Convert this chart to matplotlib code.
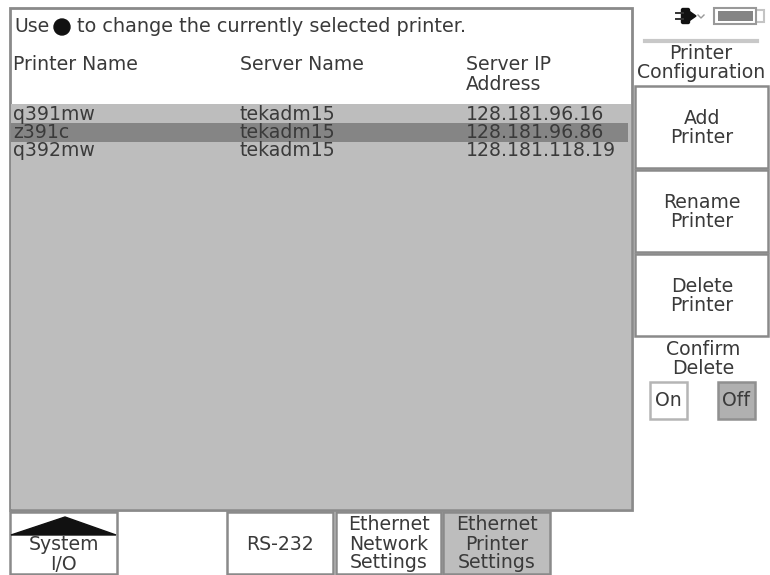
import matplotlib
matplotlib.use("Agg")
import matplotlib.pyplot as plt
from matplotlib.patches import Rectangle, Polygon, Circle, FancyBboxPatch

# table contents
headers = ["Printer Name", "Server Name", "Server IP\nAddress"]
printer_names = ["q391mw", "z391c", "q392mw"]
server_names = ["tekadm15", "tekadm15", "tekadm15"]
server_ips = ["128.181.96.16", "128.181.96.86", "128.181.118.19"]
selected_row = 1

# button labels
side_buttons = ["Add\nPrinter", "Rename\nPrinter", "Delete\nPrinter"]
bottom_buttons = ["System\nI/O", "RS-232", "Ethernet\nNetwork\nSettings", "Ethernet\nPrinter\nSettings"]

INK = "#3a3a3a"
EDGE = "#8a8a8a"
FILL = "#bdbdbd"
FS = 13.6


def box(ax, x0, y0, x1, y1, face="white", edge=EDGE, lw=1.8):
    ax.add_patch(Rectangle((x0, y0), x1 - x0, y1 - y0, facecolor=face, edgecolor=edge, linewidth=lw))


def label(ax, x, y, s, ha="center", size=FS):
    ax.text(x, y, s, ha=ha, va="center", fontsize=size, color=INK, linespacing=1.0)


def main():
    fig = plt.figure(figsize=(7.7, 5.75), dpi=100)
    ax = fig.add_axes([0, 0, 1, 1])
    ax.set_xlim(0, 770)
    ax.set_ylim(575, 0)
    ax.axis("off")

    # -----------------------
    # Main panel
    # -----------------------
    box(ax, 10, 8, 632, 510, lw=2)
    ax.add_patch(Rectangle((11, 104), 620, 405, facecolor=FILL, edgecolor="none"))
    ax.add_patch(Rectangle((11, 123), 617, 19, facecolor="#858585", edgecolor="none"))

    label(ax, 14, 27, "Use", ha="left")
    ax.add_patch(Circle((62, 27), 8, color="#111111"))
    label(ax, 77, 27, "to change the currently selected printer.", ha="left", size=13.85)

    col_x = [13, 240, 466]
    for x, head in zip(col_x, headers):
        y = 64 if "\n" not in head else 74.5
        label(ax, x, y, head, ha="left")

    row_y = [114, 132.5, 151]
    for i, y in enumerate(row_y):
        label(ax, col_x[0], y, printer_names[i], ha="left")
        label(ax, col_x[1], y, server_names[i], ha="left")
        label(ax, col_x[2], y, server_ips[i], ha="left")

    # -----------------------
    # Right column
    # -----------------------
    ax.plot([645, 757], [41, 41], color="#c8c8c8", lw=3)
    label(ax, 701, 63, "Printer\nConfiguration")

    # plug and battery
    ax.add_patch(FancyBboxPatch((683, 10), 5, 12, boxstyle="round,pad=1.5", color="#111111"))
    ax.add_patch(Polygon([(686, 9), (696, 16), (686, 23)], color="#111111"))
    ax.plot([676, 683], [13, 13], color="#333333", lw=1.4)
    ax.plot([676, 683], [19, 19], color="#333333", lw=1.4)
    ax.plot([698, 701, 704], [15, 18, 15], color="#999999", lw=1)
    ax.add_patch(Rectangle((755, 10), 9, 12, facecolor="white", edgecolor="#c4c4c4", lw=1.5))
    box(ax, 714, 8, 756, 24, edge="#999999", lw=1.5)
    ax.add_patch(Rectangle((718, 11), 35, 10, facecolor="#858585", edgecolor="none"))

    side_y = [(86, 168), (170, 252), (254, 336)]
    for (y0, y1), name in zip(side_y, side_buttons):
        box(ax, 635, y0, 768, y1)
        label(ax, 702, (y0 + y1) / 2 + 1, name)

    label(ax, 703, 359, "Confirm\nDelete")
    box(ax, 650, 382, 687, 419, edge="#b5b5b5")
    label(ax, 668, 401, "On")
    box(ax, 718, 382, 755, 419, face="#b0b0b0", edge="#909090")
    label(ax, 736, 401, "Off")

    # -----------------------
    # Bottom tabs
    # -----------------------
    tab_x = [(10, 117), (227, 333), (336, 441), (443, 550)]
    tab_face = ["white", "white", "white", FILL]
    for (x0, x1), face, name in zip(tab_x, tab_face, bottom_buttons):
        box(ax, x0, 512, x1, 574, face=face)
        if name.startswith("System"):
            label(ax, (x0 + x1) / 2, 554.5, name)
        else:
            label(ax, (x0 + x1) / 2, 544, name)
    ax.add_patch(Polygon([(65, 517), (116, 535), (11, 535)], color="#111111"))

    fig.savefig("out.png", dpi=100)


if __name__ == "__main__":
    main()
